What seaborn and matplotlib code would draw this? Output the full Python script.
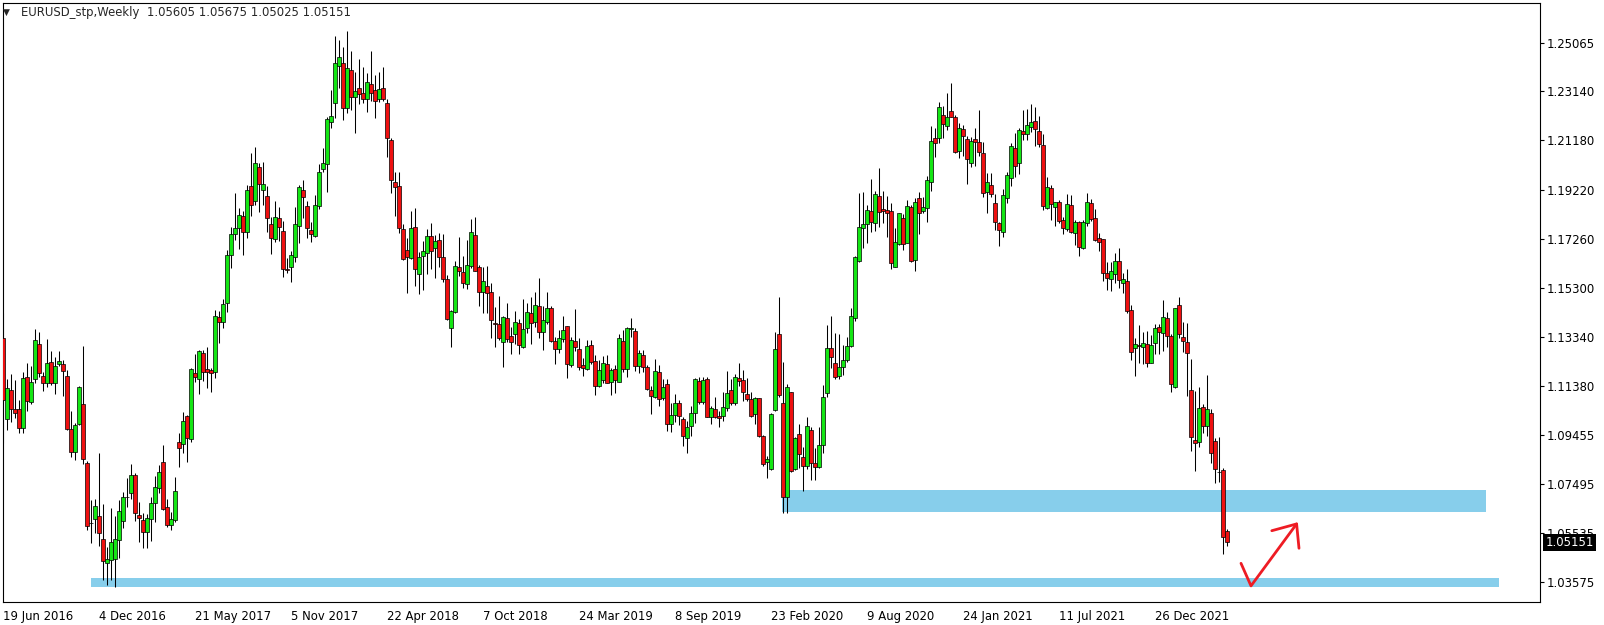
import numpy as np
import pandas as pd
import matplotlib
matplotlib.use("Agg")
import matplotlib.pyplot as plt
import matplotlib.transforms as mtransforms
from matplotlib.patches import Rectangle
import seaborn as sns

# -----------------------------
# DATA (EURUSD weekly)
# -----------------------------
symbol_title = "EURUSD_stp,Weekly  1.05605 1.05675 1.05025 1.05151"
last_price = 1.05151

opens = [
    1.1329, 1.1006, 1.1123, 1.1047, 1.1047, 1.0970, 1.1173, 1.1076, 1.1166, 1.1306,
    1.1179, 1.1152, 1.1233, 1.1150, 1.1225, 1.1225, 1.1177, 1.0966, 1.0877, 1.0989,
    1.1066, 1.0831, 1.0591, 1.0607, 1.0619, 1.0528, 1.0435, 1.0445, 1.0451, 1.0525,
    1.0602, 1.0698, 1.0714, 1.0784, 1.0625, 1.0605, 1.0558, 1.0607, 1.0671, 1.0731,
    1.0835, 1.0655, 1.0585, 1.0605, 1.0914, 1.0906, 1.1019, 1.0928, 1.1190, 1.1166,
    1.1269, 1.1205, 1.1201, 1.1196, 1.1413, 1.1393, 1.1469, 1.1661, 1.1744, 1.1768,
    1.1818, 1.1752, 1.1936, 1.1878, 1.2011, 1.1920, 1.1897, 1.1784, 1.1724, 1.1807,
    1.1758, 1.1605, 1.1612, 1.1652, 1.1778, 1.1920, 1.1857, 1.1761, 1.1738, 1.1858,
    1.2006, 1.2023, 1.2190, 1.2266, 1.2416, 1.2426, 1.2246, 1.2399, 1.2290, 1.2326,
    1.2306, 1.2283, 1.2342, 1.2319, 1.2283, 1.2326, 1.2266, 1.2118, 1.1951, 1.1935,
    1.1765, 1.1681, 1.1651, 1.1772, 1.1584, 1.1659, 1.1671, 1.1737, 1.1688, 1.1721,
    1.1652, 1.1564, 1.1369, 1.1433, 1.1615, 1.1592, 1.1544, 1.1619, 1.1741, 1.1615,
    1.1515, 1.1538, 1.1512, 1.1389, 1.1386, 1.1316, 1.1409, 1.1338, 1.1345, 1.1389,
    1.1296, 1.1369, 1.1431, 1.1393, 1.1458, 1.1356, 1.1396, 1.1449, 1.1318, 1.1287,
    1.1327, 1.1378, 1.1223, 1.1318, 1.1287, 1.1223, 1.1207, 1.1303, 1.1240, 1.1140,
    1.1163, 1.1225, 1.1156, 1.1206, 1.1156, 1.1318, 1.1206, 1.1365, 1.1358, 1.1220,
    1.1261, 1.1213, 1.1123, 1.1097, 1.1194, 1.1090, 1.1146, 1.0986, 1.1023, 1.1070,
    1.1006, 1.0930, 1.0980, 1.1030, 1.1159, 1.1077, 1.1166, 1.1017, 1.1046, 1.1019,
    1.1019, 1.1050, 1.1123, 1.1073, 1.1170, 1.1163, 1.1106, 1.1086, 1.1026, 1.1090,
    1.0940, 1.0837, 1.0808, 1.1043, 1.1346, 1.1070, 1.0698, 1.1114, 1.0807, 1.0946,
    1.0857, 1.0820, 1.0964, 1.0833, 1.0818, 1.0902, 1.1110, 1.1289, 1.1229, 1.1179,
    1.1214, 1.1243, 1.1299, 1.1409, 1.1639, 1.1768, 1.1785, 1.1837, 1.1788, 1.1897,
    1.1843, 1.1839, 1.1837, 1.1615, 1.1705, 1.1810, 1.1710, 1.1854, 1.1641, 1.1887,
    1.1837, 1.1847, 1.1954, 1.2126, 1.2129, 1.2220, 1.2177, 1.2235, 1.2210, 1.2077,
    1.2162, 1.2122, 1.2027, 1.2124, 1.2110, 1.2069, 1.1914, 1.1940, 1.1867, 1.1790,
    1.1752, 1.1887, 1.1967, 1.2087, 1.2027, 1.2156, 1.2142, 1.2173, 1.2196, 1.2156,
    1.2100, 1.1850, 1.1927, 1.1854, 1.1871, 1.1801, 1.1764, 1.1861, 1.1750, 1.1791,
    1.1688, 1.1788, 1.1870, 1.1807, 1.1728, 1.1724, 1.1588, 1.1564, 1.1585, 1.1637,
    1.1551, 1.1558, 1.1442, 1.1289, 1.1302, 1.1296, 1.1305, 1.1232, 1.1309, 1.1373,
    1.1349, 1.1409, 1.1340, 1.1136, 1.1461, 1.1333, 1.1313, 1.1123, 1.0922, 1.0917,
    1.1054, 1.0980, 1.1030, 1.0920, 1.0797, 1.0804, 1.05605,
]
highs = [
    1.1429, 1.1167, 1.1187, 1.1163, 1.1083, 1.1196, 1.1229, 1.1219, 1.1366, 1.1353,
    1.1196, 1.1326, 1.1280, 1.1256, 1.1278, 1.1243, 1.1203, 1.1039, 1.0993, 1.1139,
    1.1298, 1.0840, 1.0684, 1.0687, 1.0870, 1.0668, 1.0498, 1.0651, 1.0621, 1.0684,
    1.0716, 1.0772, 1.0828, 1.0791, 1.0678, 1.0631, 1.0627, 1.0695, 1.0780, 1.0824,
    1.0904, 1.0689, 1.0638, 1.0778, 1.0950, 1.1037, 1.1022, 1.1212, 1.1265, 1.1283,
    1.1283, 1.1296, 1.1212, 1.1442, 1.1438, 1.1486, 1.1681, 1.1773, 1.1907, 1.1847,
    1.1837, 1.1940, 1.2067, 1.2091, 1.2027, 1.2033, 1.1936, 1.1814, 1.1877, 1.1854,
    1.1797, 1.1648, 1.1677, 1.1854, 1.1940, 1.1960, 1.1877, 1.1794, 1.1900, 1.2023,
    1.2087, 1.2213, 1.2319, 1.2534, 1.2518, 1.2492, 1.2554, 1.2475, 1.2392, 1.2443,
    1.2410, 1.2386, 1.2475, 1.2379, 1.2392, 1.2410, 1.2283, 1.2126, 1.1994, 1.1994,
    1.1784, 1.1728, 1.1837, 1.1847, 1.1675, 1.1717, 1.1765, 1.1788, 1.1741, 1.1748,
    1.1744, 1.1582, 1.1442, 1.1637, 1.1732, 1.1657, 1.1721, 1.1803, 1.1811, 1.1622,
    1.1615, 1.1617, 1.1548, 1.1453, 1.1499, 1.1419, 1.1469, 1.1376, 1.1438, 1.1406,
    1.1486, 1.1469, 1.1495, 1.1515, 1.1571, 1.1458, 1.1512, 1.1458, 1.1336, 1.1362,
    1.1418, 1.1380, 1.1336, 1.1446, 1.1329, 1.1249, 1.1322, 1.1322, 1.1263, 1.1243,
    1.1260, 1.1263, 1.1209, 1.1223, 1.1345, 1.1362, 1.1376, 1.1409, 1.1369, 1.1283,
    1.1283, 1.1223, 1.1140, 1.1245, 1.1223, 1.1166, 1.1166, 1.1070, 1.1107, 1.1083,
    1.1017, 1.0999, 1.1059, 1.1172, 1.1176, 1.1174, 1.1174, 1.1061, 1.1096, 1.1039,
    1.1116, 1.1199, 1.1166, 1.1186, 1.1229, 1.1203, 1.1170, 1.1114, 1.1096, 1.1092,
    1.0944, 1.0861, 1.1030, 1.1356, 1.1495, 1.1236, 1.1147, 1.1116, 1.0937, 1.0986,
    1.0897, 1.1017, 1.0977, 1.0890, 1.0977, 1.1143, 1.1382, 1.1419, 1.1349, 1.1346,
    1.1302, 1.1333, 1.1451, 1.1657, 1.1907, 1.1914, 1.1861, 1.1964, 1.1918, 1.2007,
    1.1918, 1.1897, 1.1867, 1.1768, 1.1830, 1.1823, 1.1881, 1.1861, 1.1890, 1.1914,
    1.1894, 1.1976, 1.2176, 1.2166, 1.2273, 1.2255, 1.2309, 1.2349, 1.2219, 1.2189,
    1.2179, 1.2136, 1.2130, 1.2166, 1.2239, 1.2113, 1.1990, 1.1987, 1.1905, 1.1794,
    1.1923, 1.1994, 1.2106, 1.2149, 1.2166, 1.2239, 1.2243, 1.2262, 1.2250, 1.2215,
    1.2142, 1.1971, 1.1940, 1.1874, 1.1881, 1.1814, 1.1905, 1.1901, 1.1801, 1.1798,
    1.1801, 1.1907, 1.1883, 1.1843, 1.1750, 1.1724, 1.1635, 1.1635, 1.1668, 1.1688,
    1.1588, 1.1604, 1.1462, 1.1329, 1.1382, 1.1353, 1.1358, 1.1342, 1.1385, 1.1386,
    1.1482, 1.1433, 1.1346, 1.1451, 1.1492, 1.1393, 1.1389, 1.1247, 1.1119, 1.1136,
    1.1067, 1.1183, 1.1046, 1.0933, 1.0936, 1.0813, 1.05675,
]
lows = [
    1.0910, 1.0963, 1.0997, 1.1010, 1.0953, 1.0950, 1.1041, 1.1066, 1.1150, 1.1174,
    1.1120, 1.1136, 1.1143, 1.1107, 1.1219, 1.1100, 1.0963, 1.0857, 1.0844, 1.0983,
    1.0828, 1.0565, 1.0514, 1.0552, 1.0501, 1.0365, 1.0346, 1.0365, 1.0336, 1.0452,
    1.0573, 1.0655, 1.0687, 1.0601, 1.0518, 1.0492, 1.0492, 1.0522, 1.0598, 1.0714,
    1.0645, 1.0578, 1.0565, 1.0598, 1.0817, 1.0871, 1.0835, 1.0917, 1.1156, 1.1106,
    1.1159, 1.1130, 1.1116, 1.1169, 1.1309, 1.1369, 1.1433, 1.1608, 1.1721, 1.1684,
    1.1661, 1.1728, 1.1818, 1.1861, 1.1834, 1.1861, 1.1754, 1.1664, 1.1714, 1.1717,
    1.1572, 1.1588, 1.1552, 1.1635, 1.1708, 1.1807, 1.1728, 1.1714, 1.1734, 1.1843,
    1.1994, 1.1911, 1.2169, 1.2209, 1.2328, 1.2200, 1.2229, 1.2239, 1.2149, 1.2262,
    1.2269, 1.2233, 1.2275, 1.2209, 1.2273, 1.2275, 1.2051, 1.1907, 1.1818, 1.1748,
    1.1641, 1.1509, 1.1645, 1.1539, 1.1504, 1.1522, 1.1586, 1.1605, 1.1571, 1.1615,
    1.1555, 1.1402, 1.1296, 1.1429, 1.1579, 1.1528, 1.1524, 1.1611, 1.1597, 1.1458,
    1.1429, 1.1429, 1.1332, 1.1296, 1.1322, 1.1213, 1.1316, 1.1265, 1.1305, 1.1265,
    1.1292, 1.1349, 1.1305, 1.1376, 1.1329, 1.1283, 1.1386, 1.1316, 1.1227, 1.1269,
    1.1316, 1.1172, 1.1216, 1.1279, 1.1203, 1.1179, 1.1203, 1.1227, 1.1103, 1.1134,
    1.1150, 1.1150, 1.1103, 1.1112, 1.1154, 1.1196, 1.1176, 1.1336, 1.1200, 1.1190,
    1.1196, 1.1123, 1.1026, 1.1093, 1.1059, 1.1083, 1.0960, 1.0957, 1.0997, 1.0983,
    1.0900, 1.0873, 1.0940, 1.0990, 1.1067, 1.1067, 1.1014, 1.0987, 1.1010, 1.0977,
    1.1001, 1.1041, 1.1063, 1.1063, 1.1139, 1.1080, 1.1080, 1.1017, 1.0987, 1.0937,
    1.0821, 1.0773, 1.0804, 1.1041, 1.1096, 1.0634, 1.0631, 1.0797, 1.0804, 1.0811,
    1.0722, 1.0807, 1.0764, 1.0765, 1.0812, 1.0870, 1.1096, 1.1209, 1.1166, 1.1166,
    1.1183, 1.1236, 1.1293, 1.1399, 1.1635, 1.1691, 1.1708, 1.1752, 1.1758, 1.1774,
    1.1788, 1.1734, 1.1606, 1.1612, 1.1701, 1.1681, 1.1708, 1.1635, 1.1597, 1.1744,
    1.1830, 1.1794, 1.1918, 1.2053, 1.2109, 1.2126, 1.2160, 1.2210, 1.2067, 1.2049,
    1.2057, 1.1944, 1.2013, 1.2017, 1.2057, 1.1891, 1.1830, 1.1891, 1.1761, 1.1698,
    1.1734, 1.1867, 1.1938, 1.1974, 1.1983, 1.2120, 1.2120, 1.2153, 1.2096, 1.2090,
    1.1841, 1.1843, 1.1801, 1.1777, 1.1790, 1.1744, 1.1758, 1.1750, 1.1701, 1.1659,
    1.1684, 1.1778, 1.1798, 1.1717, 1.1679, 1.1559, 1.1522, 1.1519, 1.1551, 1.1531,
    1.1508, 1.1429, 1.1243, 1.1180, 1.1232, 1.1225, 1.1216, 1.1229, 1.1267, 1.1267,
    1.1280, 1.1296, 1.1116, 1.1132, 1.1329, 1.1276, 1.1099, 1.0881, 1.0801, 1.0897,
    1.0953, 1.0940, 1.0833, 1.0754, 1.0758, 1.0468, 1.05025,
]
closes = [
    1.1083, 1.1130, 1.1046, 1.1030, 1.0970, 1.1169, 1.1080, 1.1154, 1.1321, 1.1189,
    1.1150, 1.1229, 1.1152, 1.1219, 1.1239, 1.1197, 1.0966, 1.0877, 1.0983, 1.1135,
    1.0847, 1.0582, 1.0591, 1.0659, 1.0554, 1.0443, 1.0448, 1.0516, 1.0528, 1.0641,
    1.0695, 1.0698, 1.0784, 1.0634, 1.0611, 1.0556, 1.0614, 1.0671, 1.0735, 1.0795,
    1.0649, 1.0585, 1.0607, 1.0720, 1.0893, 1.0999, 1.0930, 1.1207, 1.1176, 1.1279,
    1.1194, 1.1194, 1.1190, 1.1418, 1.1396, 1.1465, 1.1661, 1.1744, 1.1768, 1.1821,
    1.1754, 1.1920, 1.1861, 1.2027, 1.1943, 1.1943, 1.1810, 1.1728, 1.1814, 1.1774,
    1.1604, 1.1601, 1.1661, 1.1784, 1.1931, 1.1894, 1.1770, 1.1745, 1.1861, 1.1991,
    1.2027, 1.2202, 1.2215, 1.2426, 1.2449, 1.2246, 1.2406, 1.2290, 1.2315, 1.2302,
    1.2283, 1.2350, 1.2308, 1.2277, 1.2322, 1.2283, 1.2126, 1.1959, 1.1934, 1.1768,
    1.1644, 1.1655, 1.1768, 1.1604, 1.1652, 1.1679, 1.1738, 1.1679, 1.1717, 1.1652,
    1.1564, 1.1405, 1.1438, 1.1617, 1.1599, 1.1548, 1.1621, 1.1752, 1.1599, 1.1515,
    1.1558, 1.1511, 1.1401, 1.1385, 1.1329, 1.1413, 1.1326, 1.1313, 1.1393, 1.1302,
    1.1365, 1.1435, 1.1391, 1.1462, 1.1356, 1.1402, 1.1449, 1.1318, 1.1287, 1.1329,
    1.1362, 1.1228, 1.1322, 1.1296, 1.1213, 1.1212, 1.1299, 1.1236, 1.1140, 1.1203,
    1.1229, 1.1152, 1.1203, 1.1163, 1.1329, 1.1207, 1.1372, 1.1369, 1.1220, 1.1269,
    1.1213, 1.1126, 1.1101, 1.1199, 1.1086, 1.1136, 1.0986, 1.1023, 1.1070, 1.1019,
    1.0940, 1.0974, 1.1033, 1.1166, 1.1077, 1.1163, 1.1017, 1.1053, 1.1017, 1.1013,
    1.1057, 1.1112, 1.1073, 1.1174, 1.1159, 1.1116, 1.1086, 1.1021, 1.1092, 1.0941,
    1.0827, 1.0847, 1.1026, 1.1285, 1.1103, 1.0695, 1.1134, 1.0801, 1.0930, 1.0867,
    1.0820, 1.0980, 1.0833, 1.0818, 1.0902, 1.1096, 1.1289, 1.1253, 1.1174, 1.1214,
    1.1243, 1.1299, 1.1419, 1.1652, 1.1772, 1.1785, 1.1839, 1.1791, 1.1905, 1.1834,
    1.1838, 1.1830, 1.1628, 1.1712, 1.1827, 1.1705, 1.1857, 1.1637, 1.1871, 1.1830,
    1.1851, 1.1960, 1.2116, 1.2107, 1.2250, 1.2182, 1.2210, 1.2213, 1.2071, 1.2166,
    1.2136, 1.2043, 1.2116, 1.2113, 1.2071, 1.1907, 1.1951, 1.1903, 1.1792, 1.1761,
    1.1901, 1.1980, 1.2096, 1.2016, 1.2160, 1.2142, 1.2179, 1.2190, 1.2162, 1.2102,
    1.1858, 1.1931, 1.1863, 1.1871, 1.1798, 1.1768, 1.1865, 1.1754, 1.1791, 1.1694,
    1.1791, 1.1874, 1.1805, 1.1721, 1.1714, 1.1588, 1.1571, 1.1597, 1.1639, 1.1562,
    1.1564, 1.1439, 1.1276, 1.1305, 1.1300, 1.1312, 1.1232, 1.1302, 1.1369, 1.1356,
    1.1413, 1.1340, 1.1146, 1.1449, 1.1345, 1.1320, 1.1269, 1.0934, 1.0910, 1.1050,
    1.0980, 1.1046, 1.0873, 1.0809, 1.0795, 1.0538, 1.05151,
]

# date labels shown every 24 weeks
date_labels = ["19 Jun 2016", "4 Dec 2016", "21 May 2017", "5 Nov 2017",
               "22 Apr 2018", "7 Oct 2018", "24 Mar 2019", "8 Sep 2019",
               "23 Feb 2020", "9 Aug 2020", "24 Jan 2021", "11 Jul 2021",
               "26 Dec 2021"]
label_step = 24

price_ticks = [1.25065, 1.23140, 1.21180, 1.19220, 1.17260, 1.15300,
               1.13340, 1.11380, 1.09455, 1.07495, 1.05535, 1.03575]

# support zones: (first bar, last bar, low price, high price)
zone_upper = (194.8, 370.8, 1.0638, 1.0724)
zone_lower = (22.0, 374.0, 1.0336, 1.0375)

# hand-drawn arrow (bar, price)
arrow_bars = [309.5, 312.0, 323.4]
arrow_prices = [1.0432, 1.0342, 1.0589]
head_bars = [317.2, 323.4, 324.0]
head_prices = [1.0562, 1.0589, 1.0492]

# -----------------------------
# FRAME
# -----------------------------
df = pd.DataFrame({"open": opens, "high": highs, "low": lows, "close": closes})
df["bar"] = np.arange(len(df))
df["bull"] = df["close"] > df["open"]

sns.set_style("white")
plt.rcParams["font.family"] = ["DejaVu Sans"]

W, H = 1604, 625
fig = plt.figure(figsize=(W / 100, H / 100), dpi=100)
left_px, right_px, top_px, bottom_px = 2.5, 1539.5, 2.5, 601.5
ax = fig.add_axes([left_px / W, 1 - bottom_px / H,
                   (right_px - left_px) / W, (bottom_px - top_px) / H])

# 4 px per bar, 0.0003987 per px
px_per_bar = 4.0
price_per_px = 0.0003987
ax.set_xlim((left_px - 3) / px_per_bar, (right_px - 3) / px_per_bar)
ax.set_ylim(1.25065 - (bottom_px - 43) * price_per_px,
            1.25065 + (43 - top_px) * price_per_px)

# -----------------------------
# ZONES + CANDLES
# -----------------------------
for z in (zone_upper, zone_lower):
    ax.add_patch(Rectangle((z[0], z[2]), z[1] - z[0], z[3] - z[2],
                           facecolor="#87CEEB", edgecolor="none", zorder=1))

ax.vlines(df["bar"], df["low"], df["high"], color="black",
          linewidth=0.75, zorder=2)

body_bottom = df[["open", "close"]].min(axis=1)
body_height = (df["close"] - df["open"]).abs()
body_color = np.where(df["bull"], "#14e614", "#ee1010")
ax.bar(df["bar"], body_height, bottom=body_bottom, width=0.82,
       color=body_color, edgecolor="black", linewidth=0.5, zorder=3)

ax.plot(arrow_bars, arrow_prices, color="#ee1c24", linewidth=2.0,
        solid_capstyle="round", solid_joinstyle="round", zorder=4)
ax.plot(head_bars, head_prices, color="#ee1c24", linewidth=2.0,
        solid_capstyle="round", solid_joinstyle="round", zorder=4)

# -----------------------------
# AXES
# -----------------------------
for s in ax.spines.values():
    s.set_visible(True)
    s.set_color("black")
    s.set_linewidth(0.8)

ax.set_xticks(np.arange(len(date_labels)) * label_step)
ax.set_xticklabels(date_labels, ha="left")
ax.yaxis.tick_right()
ax.set_yticks(price_ticks)
ax.set_yticklabels([f"{p:.5f}" for p in price_ticks])
ax.tick_params(axis="both", direction="out", length=3, width=0.8,
               labelsize=8.4, colors="black", pad=2.5)
ax.tick_params(axis="x", pad=3)

trans = mtransforms.blended_transform_factory(ax.transAxes, ax.transData)
ax.text(1.0 + 6 / (right_px - left_px), last_price, f"{last_price:.5f}",
        transform=trans, color="white", fontsize=8.4, va="center", ha="left",
        bbox=dict(facecolor="black", edgecolor="none",
                  boxstyle="square,pad=0.2"),
        clip_on=False, zorder=6)

fig.text(2.5 / W, 1 - 12 / H, "\u25bc", fontsize=6.5, va="center", ha="left")
fig.text(21 / W, 1 - 12.5 / H, symbol_title, fontsize=8.4,
         va="center", ha="left")

fig.savefig("out.png", dpi=100, facecolor="white")
